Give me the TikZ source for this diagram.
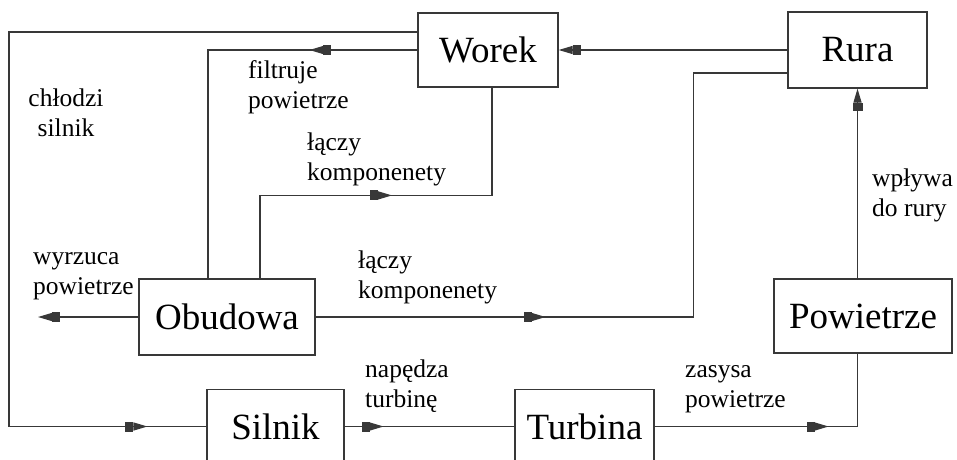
\documentclass[tikz,border=0pt]{standalone}
\usepackage{fontspec}
\setmainfont{Liberation Serif}
\usetikzlibrary{arrows.meta,decorations.markings}

\definecolor{linegray}{gray}{0.22}

\tikzset{
  flowtip/.tip={Rectangle[length=8pt,width=10pt]Triangle[length=14pt,width=8pt]},
  box/.style={draw=linegray, line width=1.2pt, inner sep=0pt,
    font=\fontsize{37}{40}\selectfont},
  conn/.style={draw=linegray, line width=1.2pt},
  endarrow/.style={-{flowtip}},
  arrowat/.style={postaction={decorate},
    decoration={markings, mark=at position #1 with {\arrow{flowtip}}}},
  lbl/.style={inner sep=0pt, align=left, anchor=base west,
    font=\fontsize{25.5}{30}\selectfont},
}

\begin{document}
\begin{tikzpicture}[x=1pt,y=-1pt]
\useasboundingbox (0,0) rectangle (957,459);
\clip (0,0) rectangle (957,459);

% blocks
\node[box, minimum width=140pt, minimum height=74pt] (worek) at (488,50) {Worek};
\node[box, minimum width=139pt, minimum height=76pt] (rura) at (857.5,50) {Rura};
\node[box, minimum width=176pt, minimum height=76pt] (obudowa) at (227,317) {Obudowa};
\node[box, minimum width=178pt, minimum height=74pt] (powietrze) at (863,316) {Powietrze};
\node[box, minimum width=137pt, minimum height=74pt] (silnik) at (275.5,426.5) {Silnik};
\node[box, minimum width=139pt, minimum height=74pt] (turbina) at (584.5,426.5) {Turbina};
\coordinate (exhaust) at (38,317);

% connectors
\draw[conn, arrowat=-59pt] ([yshift=18pt]worek.west) -| (9,426.5) -- (silnik.west);
\draw[conn, arrowat=108pt] (worek.west) -| ([xshift=-19pt]obudowa.north);
\draw[conn, arrowat=215pt] ([xshift=33pt]obudowa.north) -- ++(0,-83)
  -| ([xshift=4pt]worek.south);
\draw[conn, endarrow] (rura.west) -- (worek.east);
\draw[conn, arrowat=230pt] (obudowa.east) -| ([xshift=-94pt,yshift=-23pt]rura.west)
  -- ([yshift=-23pt]rura.west);
\draw[conn, endarrow] (powietrze.north -| rura.south) -- (rura.south);
\draw[conn, endarrow] (obudowa.west) -- (exhaust);
\draw[conn, arrowat=39pt] (silnik.east) -- (turbina.west);
\draw[conn, arrowat=174pt] (turbina.east) -| (powietrze.south -| rura.south);

% connector labels (anchored at the baseline of the second line)
\node[lbl, align=center, anchor=base] at (66,136) {chłodzi\\silnik};
\node[lbl] at (248,108) {filtruje\\powietrze};
\node[lbl] at (307,180) {łączy\\komponenety};
\node[lbl] at (33,294) {wyrzuca\\powietrze};
\node[lbl] at (358,298) {łączy\\komponenety};
\node[lbl] at (365,407) {napędza\\turbinę};
\node[lbl] at (685,407) {zasysa\\powietrze};
\node[lbl] at (872,216) {wpływa\\do rury};
\end{tikzpicture}
\end{document}
